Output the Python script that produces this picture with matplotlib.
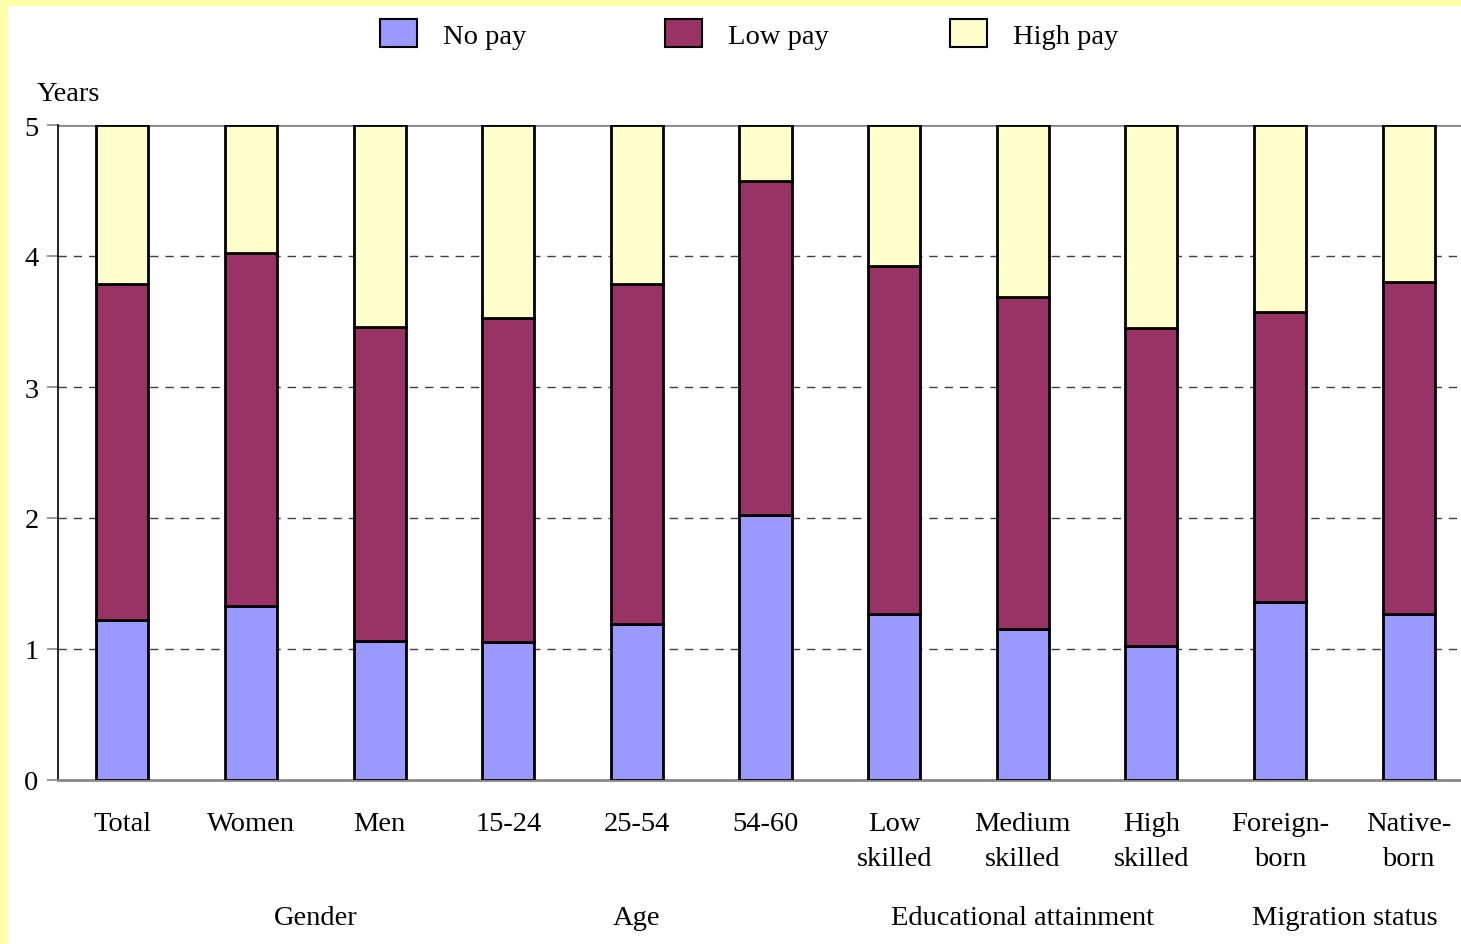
import matplotlib
matplotlib.use("Agg")
import matplotlib.pyplot as plt
import matplotlib.transforms as mtransforms
from matplotlib.patches import Rectangle, Patch
import numpy as np

categories = ["Total", "Women", "Men", "15-24", "25-54", "54-60",
              "Low\nskilled", "Medium\nskilled", "High\nskilled",
              "Foreign-\nborn", "Native-\nborn"]
no_pay = [1.22, 1.33, 1.06, 1.05, 1.19, 2.02, 1.27, 1.15, 1.02, 1.36, 1.27]
low_pay = [2.57, 2.69, 2.40, 2.48, 2.60, 2.55, 2.65, 2.54, 2.43, 2.21, 2.53]
high_pay = [1.21, 0.98, 1.54, 1.47, 1.21, 0.43, 1.08, 1.31, 1.55, 1.43, 1.20]
series_names = ["No pay", "Low pay", "High pay"]
groups = ["Gender", "Age", "Educational attainment", "Migration status"]
group_pos = [1.5, 4.0, 7.0, 9.5]
y_ticks = [0, 1, 2, 3, 4, 5]

colors = ["#9999FF", "#993366", "#FFFFCC"]
serif = ["Liberation Serif", "DejaVu Serif"]
plt.rcParams["font.family"] = serif
FS = 20.5

W, H = 1461, 945
fig = plt.figure(figsize=(W / 100, H / 100), dpi=100, facecolor="white")

# pale yellow frame along the top and left edges
frame = "#FFFFAA"
fig.add_artist(Rectangle((0, 1 - 7 / H), 1, 7 / H, transform=fig.transFigure,
                         facecolor=frame, edgecolor="none", zorder=0))
fig.add_artist(Rectangle((0, 0), 8 / W, 1, transform=fig.transFigure,
                         facecolor=frame, edgecolor="none", zorder=0))

ax = fig.add_axes([58 / W, 1 - 781 / H, 1415 / W, 655 / H])
ax.set_facecolor("none")

x = np.arange(len(categories))
bw = 0.405
bottom = np.zeros(len(categories))
for vals, col, name in zip([no_pay, low_pay, high_pay], colors, series_names):
    ax.bar(x, vals, bw, bottom=bottom, color=col, edgecolor="black",
           linewidth=2, label=name, zorder=3)
    bottom += np.array(vals)

ax.set_xlim(-0.5, len(categories) - 0.5)
ax.set_ylim(0, 5)
ax.set_yticks(y_ticks)
ax.set_yticklabels([str(t) for t in y_ticks], fontsize=FS)

for t in [1, 2, 3, 4]:
    ax.axhline(t, color="#404040", linestyle=(0, (6, 5)), linewidth=1, zorder=1)
ax.axhline(5, color="#888888", linewidth=2, zorder=2)

for s in ["top", "right"]:
    ax.spines[s].set_visible(False)
ax.spines["left"].set_color("black")
ax.spines["left"].set_linewidth(1.2)
ax.spines["bottom"].set_color("#888888")
ax.spines["bottom"].set_linewidth(2)

ax.tick_params(axis="y", length=8, width=1.2, color="#888888", pad=6)
ax.tick_params(axis="x", length=0, pad=22)
ax.set_xticks(x)
ax.set_xticklabels(categories, fontsize=FS, linespacing=1.55)

trans = mtransforms.blended_transform_factory(ax.transData, ax.transAxes)
for g, p in zip(groups, group_pos):
    ax.text(p, -0.21, g, transform=trans, ha="center", va="center", fontsize=FS)

fig.text(37 / W, 1 - 95 / H, "Years", ha="left", va="center", fontsize=FS)

# one legend entry per series, spaced evenly across the top
leg_x = [380, 665, 950]
for name, col, lx in zip(series_names, colors, leg_x):
    leg = fig.legend(handles=[Patch(facecolor=col, edgecolor="black", linewidth=1.5)],
                     labels=[name], loc="center left",
                     bbox_to_anchor=(lx / W, 1 - 35 / H), frameon=False,
                     fontsize=FS, handlelength=1.3, handleheight=1.1,
                     handletextpad=0.9, borderpad=0, borderaxespad=0)

fig.savefig("out.png", dpi=100, facecolor="white")
